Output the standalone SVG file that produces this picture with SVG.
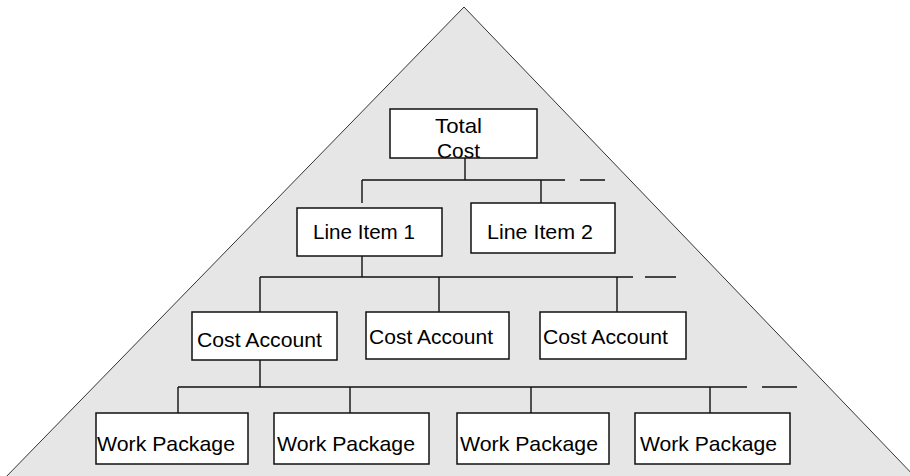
<svg xmlns="http://www.w3.org/2000/svg" width="910" height="476" viewBox="0 0 910 476">
<style>
.box{fill:#fff;stroke:#111;stroke-width:1.5}
.edge{fill:none;stroke:#111;stroke-width:1.4}
.lbl{font-family:"Liberation Sans",Arial,sans-serif;font-size:21px;fill:#000}
</style>
<rect x="0" y="0" width="910" height="476" fill="#fff"/>
<polygon points="464,7 3,480 918,480" fill="#e6e6e6" stroke="#333" stroke-width="1"/>
<g id="connectors">
<path class="edge" d="M465,158V180M362,180H565M580,180H605M362,180V203M541,180V203"/>
<path class="edge" d="M362,256V277M260,277H633M645,277H676M260,277V312M439,277V312M617,277V312"/>
<path class="edge" d="M260,360V387M178,387H747M762,387H797M178,387V413M350,387V413M531,387V413M710,387V413"/>
</g>
<g id="total-cost">
<rect x="390" y="109" width="147" height="49" fill="#fff"/>
<text class="lbl" x="435" y="133" textLength="47" lengthAdjust="spacingAndGlyphs">Total</text>
<text class="lbl" x="437" y="158" textLength="43" lengthAdjust="spacingAndGlyphs">Cost</text>
<rect x="390" y="109" width="147" height="49" fill="none" stroke="#111" stroke-width="1.5"/>
</g>
<g id="line-item-1">
<rect class="box" x="297" y="208" width="145" height="48"/>
<text class="lbl" x="313" y="239" textLength="102" lengthAdjust="spacingAndGlyphs">Line Item 1</text>
</g>
<g id="line-item-2">
<rect class="box" x="471" y="203" width="144" height="50"/>
<text class="lbl" x="487" y="239" textLength="106" lengthAdjust="spacingAndGlyphs">Line Item 2</text>
</g>
<g id="cost-account-1">
<rect class="box" x="192" y="312" width="145" height="48"/>
<text class="lbl" x="197" y="347" textLength="125" lengthAdjust="spacingAndGlyphs">Cost Account</text>
</g>
<g id="cost-account-2">
<rect class="box" x="366" y="312" width="143" height="47"/>
<text class="lbl" x="369" y="344" textLength="124" lengthAdjust="spacingAndGlyphs">Cost Account</text>
</g>
<g id="cost-account-3">
<rect class="box" x="540" y="312" width="146" height="47"/>
<text class="lbl" x="543" y="344" textLength="125" lengthAdjust="spacingAndGlyphs">Cost Account</text>
</g>
<g id="work-package-1">
<rect class="box" x="96" y="413" width="152" height="51"/>
<text class="lbl" x="97" y="451" textLength="138" lengthAdjust="spacingAndGlyphs">Work Package</text>
</g>
<g id="work-package-2">
<rect class="box" x="274" y="413" width="155" height="51"/>
<text class="lbl" x="277" y="451" textLength="138" lengthAdjust="spacingAndGlyphs">Work Package</text>
</g>
<g id="work-package-3">
<rect class="box" x="457" y="413" width="152" height="51"/>
<text class="lbl" x="460" y="451" textLength="138" lengthAdjust="spacingAndGlyphs">Work Package</text>
</g>
<g id="work-package-4">
<rect class="box" x="635" y="413" width="155" height="51"/>
<text class="lbl" x="640" y="451" textLength="137" lengthAdjust="spacingAndGlyphs">Work Package</text>
</g>
</svg>
